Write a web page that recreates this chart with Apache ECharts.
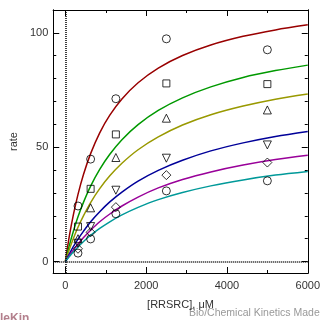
<!DOCTYPE html>
<html><head><meta charset="utf-8">
<script src="https://cdn.jsdelivr.net/npm/echarts@6/dist/echarts.min.js"></script>
<style>html,body{margin:0;padding:0;background:#fff;}#c{width:323px;height:320px;}</style>
</head><body><div id="c"></div>
<script>
// measured substrate concentrations [RRSRC], uM
const xData = [312.5, 625, 1250, 2500, 5000];
// observed rates (one array per data set)
const s1 = [24.3, 44.8, 71.2, 97.4, 92.6];   // circle
const s2 = [15.3, 31.8, 55.6, 77.9, 77.6];   // square
const s3 = [10.0, 23.5, 45.5, 62.7, 66.3];   // triangle
const s4 = [8.0, 15.3, 31.2, 45.2, 51.0];    // down triangle
const s5 = [5.6, 12.8, 23.8, 37.8, 43.3];    // diamond
const s6 = [3.7, 9.9, 20.9, 30.9, 35.3];     // circle
// fitted curves
const cx = [0, 100, 200, 312.5, 450, 625, 850, 1100, 1400, 1800, 2300, 2900, 3600, 4400, 5200, 6000];
const c1 = [0, 11.3, 20.6, 29.4, 38.2, 47.2, 56.3, 64.0, 71.1, 78.2, 84.6, 90.1, 94.7, 98.5, 101.3, 103.5];
const c2 = [0, 7.2, 13.4, 19.6, 26.0, 33.0, 40.3, 46.9, 53.3, 59.9, 66.1, 71.6, 76.4, 80.5, 83.5, 85.9];
const c3 = [0, 5.4, 10.2, 15.0, 20.1, 25.8, 31.9, 37.5, 43.0, 48.9, 54.5, 59.7, 64.2, 68.0, 71.0, 73.3];
const c4 = [0, 3.4, 6.6, 9.8, 13.3, 17.4, 21.8, 26.1, 30.4, 35.2, 39.9, 44.3, 48.4, 51.9, 54.7, 56.9];
const c5 = [0, 2.7, 5.1, 7.7, 10.5, 13.7, 17.4, 20.8, 24.3, 28.2, 32.2, 35.9, 39.2, 42.2, 44.6, 46.5];
const c6 = [0, 2.2, 4.3, 6.4, 8.8, 11.5, 14.5, 17.4, 20.4, 23.7, 27.1, 30.2, 33.1, 35.7, 37.8, 39.4];
// axis ticks
const xMajor = [0, 2000, 4000, 6000];
const xMinor = [1000, 3000, 5000];
const yMajor = [0, 50, 100];
const yMinor = [10, 20, 30, 40, 60, 70, 80, 90];

const pts = (ys) => xData.map((x, i) => [x, ys[i]]);
const crv = (ys) => cx.map((x, i) => [x, ys[i]]);
const FONT = 'Liberation Sans';
const colors = ['#990000', '#009900', '#999900', '#000099', '#990099', '#009999'];
const curves = [c1, c2, c3, c4, c5, c6];
const sets = [
  {d: s1, sym: 'circle', size: 8, rot: 0},
  {d: s2, sym: 'rect', size: 7, rot: 0},
  {d: s3, sym: 'triangle', size: 8, rot: 0},
  {d: s4, sym: 'triangle', size: 8, rot: 180},
  {d: s5, sym: 'diamond', size: 9, rot: 0},
  {d: s6, sym: 'circle', size: 8, rot: 0}
];

function xAx(pos, ticks, len, labels) {
  return {
    type: 'value', position: pos, min: -300, max: 6000,
    axisLine: {show: true, onZero: false, lineStyle: {color: '#000', width: 1}},
    axisTick: {show: true, inside: true, length: len, customValues: ticks, lineStyle: {color: '#000'}},
    axisLabel: labels ? {show: true, customValues: xMajor, formatter: (v) => String(v), color: '#333', fontFamily: FONT, fontSize: 11, margin: 7} : {show: false},
    splitLine: {show: false},
    name: labels ? '[RRSRC], \u03bcM' : '', nameLocation: 'middle', nameGap: 26,
    nameTextStyle: {color: '#333', fontFamily: FONT, fontSize: 11}
  };
}
function yAx(pos, ticks, len, labels) {
  return {
    type: 'value', position: pos, min: -5, max: 110,
    axisLine: {show: true, onZero: false, lineStyle: {color: '#000', width: 1}},
    axisTick: {show: true, inside: true, length: len, customValues: ticks, lineStyle: {color: '#000'}},
    axisLabel: labels ? {show: true, customValues: yMajor, formatter: (v) => String(v), color: '#333', fontFamily: FONT, fontSize: 11, margin: 5} : {show: false},
    splitLine: {show: false},
    name: labels ? 'rate' : '', nameLocation: 'middle', nameGap: 31, nameRotate: 90,
    nameTextStyle: {color: '#333', fontFamily: FONT, fontSize: 11}
  };
}

const series = [];
curves.forEach((c, i) => series.push({
  type: 'line', data: crv(c), showSymbol: false, smooth: 0.3,
  lineStyle: {color: colors[i], width: 1.5}, silent: true, z: 2
}));
sets.forEach((s) => series.push({
  type: 'scatter', data: pts(s.d), symbol: s.sym, symbolSize: s.size, symbolRotate: s.rot,
  itemStyle: {color: 'rgba(255,255,255,0)', borderColor: '#000', borderWidth: 1}, z: 3
}));
series[0].markLine = {
  silent: true, symbol: 'none', label: {show: false},
  lineStyle: {color: '#000', type: [1, 1], width: 1.5},
  data: [{xAxis: 0}, {yAxis: 0}]
};

const chart = echarts.init(document.getElementById('c'), null, {renderer: 'canvas'});
chart.setOption({
  animation: false,
  backgroundColor: '#fff',
  grid: {left: 47, right: 13, top: 10, bottom: 47, containLabel: false},
  xAxis: [xAx('bottom', xMajor, 6, true), xAx('bottom', xMinor, 3, false), xAx('top', xMajor, 6, false), xAx('top', xMinor, 3, false)],
  yAxis: [yAx('left', yMajor, 6, true), yAx('left', yMinor, 3, false), yAx('right', yMajor, 6, false), yAx('right', yMinor, 3, false)],
  series: series,
  graphic: [
    {type: 'text', left: 189, top: 308, style: {text: 'Bio/Chemical Kinetics Made', fill: '#999', font: '10.5px "Liberation Sans"'}},
    {type: 'text', left: 0, top: 313, style: {text: 'leKin', fill: '#a06070', opacity: 0.8, font: 'bold 12px "Liberation Sans"'}}
  ]
});
</script></body></html>
